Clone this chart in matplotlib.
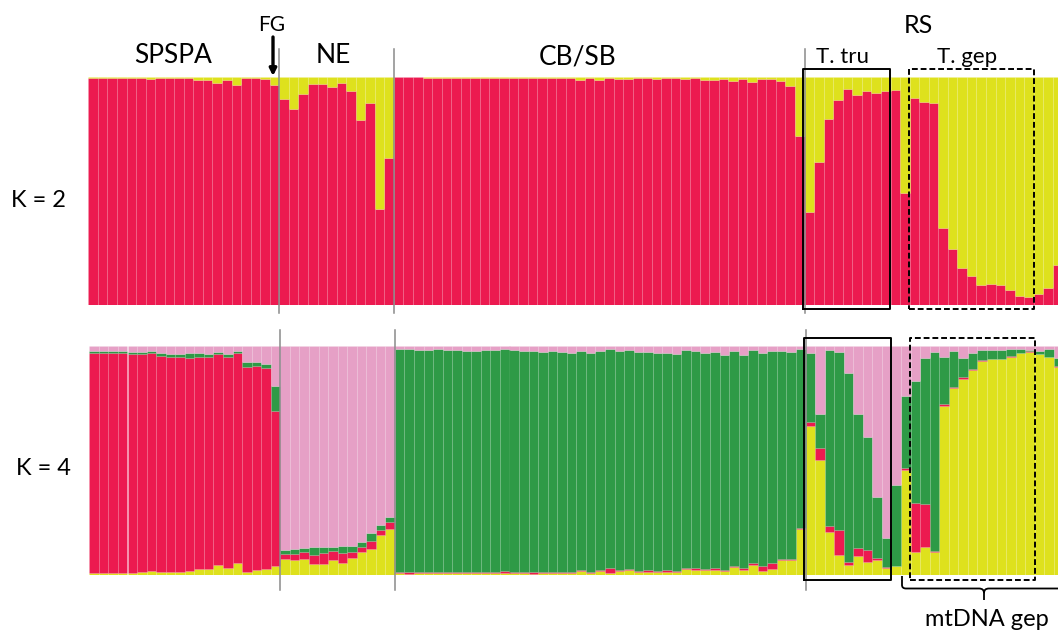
import matplotlib.pyplot as plt
import numpy as np
from matplotlib.path import Path
from matplotlib.patches import PathPatch

plt.rcParams['font.family'] = ['Lato', 'DejaVu Sans']

W, H = 1058, 630

groups = ['SPSPA', 'NE', 'CB/SB', 'RS']

# K = 2: membership of the red cluster per individual (the rest is yellow)
k2_red_spspa = [0.997, 0.997, 0.997, 0.997, 0.997, 0.996, 0.993, 0.996, 0.996, 0.996,
                0.994, 0.985, 0.985, 0.972, 0.988, 0.966, 0.994, 0.994, 0.990, 0.966]
k2_red_ne = [0.905, 0.859, 0.927, 0.971, 0.968, 0.955, 0.974, 0.940, 0.810, 0.884, 0.420, 0.644]
k2_red_cbsb = [0.998, 0.998, 0.998, 0.997, 0.997, 0.997, 0.997, 0.997, 0.996, 0.995,
               0.997, 0.996, 0.996, 0.996, 0.995, 0.996, 0.995, 0.996, 0.996, 0.988,
               0.996, 0.988, 0.996, 0.990, 0.990, 0.996, 0.996, 0.991, 0.996, 0.996,
               0.991, 0.996, 0.988, 0.985, 0.991, 0.982, 0.993, 0.977, 0.991, 0.990,
               0.981, 0.962, 0.742]
k2_red_rs = [0.410, 0.626, 0.816, 0.900, 0.946, 0.920, 0.940, 0.930, 0.940, 0.943,
             0.490, 0.910, 0.890, 0.885, 0.336, 0.247, 0.164, 0.129, 0.088, 0.092,
             0.089, 0.066, 0.041, 0.034, 0.048, 0.075, 0.175]

# K = 4: yellow, red, green membership (pink is the rest)
k4_yellow_spspa = [0.010, 0.010, 0.010, 0.010, 0.010, 0.012, 0.019, 0.012, 0.012, 0.013,
                   0.016, 0.028, 0.028, 0.042, 0.032, 0.054, 0.012, 0.020, 0.026, 0.039]
k4_red_spspa = [0.958, 0.958, 0.958, 0.958, 0.953, 0.952, 0.949, 0.946, 0.942, 0.940,
                0.932, 0.924, 0.926, 0.923, 0.921, 0.914, 0.898, 0.892, 0.878, 0.677]
k4_green_spspa = [0.012, 0.009, 0.012, 0.009, 0.010, 0.010, 0.010, 0.010, 0.013, 0.010,
                  0.023, 0.019, 0.009, 0.009, 0.010, 0.012, 0.019, 0.017, 0.019, 0.109]

k4_yellow_ne = [0.068, 0.067, 0.071, 0.048, 0.048, 0.066, 0.051, 0.074, 0.102, 0.115, 0.173, 0.199]
k4_red_ne = [0.023, 0.026, 0.028, 0.041, 0.047, 0.039, 0.044, 0.028, 0.022, 0.032, 0.022, 0.033]
k4_green_ne = [0.017, 0.019, 0.019, 0.032, 0.029, 0.017, 0.032, 0.026, 0.022, 0.036, 0.023, 0.023]

k4_yellow_cbsb = [0.007, 0.006, 0.007, 0.007, 0.007, 0.007, 0.007, 0.007, 0.007, 0.009,
                  0.009, 0.009, 0.007, 0.007, 0.006, 0.009, 0.009, 0.007, 0.007, 0.016,
                  0.009, 0.019, 0.010, 0.019, 0.022, 0.012, 0.013, 0.012, 0.015, 0.012,
                  0.025, 0.020, 0.022, 0.023, 0.017, 0.033, 0.023, 0.044, 0.017, 0.025,
                  0.066, 0.064, 0.203]
k4_red_cbsb = [0.006, 0.006, 0.004, 0.004, 0.006, 0.006, 0.004, 0.006, 0.004, 0.006,
               0.006, 0.007, 0.006, 0.006, 0.006, 0.006, 0.006, 0.006, 0.004, 0.004,
               0.004, 0.004, 0.019, 0.004, 0.004, 0.006, 0.009, 0.004, 0.006, 0.004,
               0.007, 0.010, 0.006, 0.007, 0.006, 0.006, 0.007, 0.007, 0.023, 0.026,
               0.006, 0.006, 0.004]
k4_green_cbsb = [0.974, 0.975, 0.973, 0.970, 0.974, 0.971, 0.972, 0.967, 0.969, 0.968,
                 0.968, 0.969, 0.970, 0.967, 0.968, 0.960, 0.963, 0.962, 0.960, 0.958,
                 0.958, 0.957, 0.958, 0.957, 0.955, 0.954, 0.950, 0.952, 0.950, 0.949,
                 0.951, 0.948, 0.940, 0.944, 0.939, 0.939, 0.932, 0.932, 0.928, 0.927,
                 0.908, 0.902, 0.780]

k4_yellow_rs = [0.650, 0.501, 0.187, 0.088, 0.045, 0.085, 0.055, 0.067, 0.029, 0.038,
                0.457, 0.099, 0.121, 0.102, 0.739, 0.816, 0.857, 0.895, 0.936, 0.943,
                0.942, 0.953, 0.968, 0.975, 0.965, 0.950, 0.907]
k4_red_rs = [0.019, 0.055, 0.026, 0.107, 0.010, 0.032, 0.054, 0.006, 0.004, 0.003,
             0.010, 0.215, 0.190, 0.004, 0.009, 0.006, 0.006, 0.004, 0.003, 0.002,
             0.002, 0.002, 0.002, 0.001, 0.002, 0.003, 0.007]
k4_green_rs = [0.299, 0.146, 0.769, 0.778, 0.828, 0.588, 0.493, 0.267, 0.128, 0.350,
               0.314, 0.531, 0.635, 0.867, 0.203, 0.155, 0.083, 0.072, 0.042, 0.039,
               0.039, 0.034, 0.015, 0.006, 0.013, 0.032, 0.032]

RED = '#EC1A50'
YELLOW = '#DEE11D'
GREEN = '#2E9A46'
PINK = '#E6A0C6'
EDGE = (1, 1, 1, 0.09)

k2_red = np.array(k2_red_spspa + k2_red_ne + k2_red_cbsb + k2_red_rs)
k4_yellow = np.array(k4_yellow_spspa + k4_yellow_ne + k4_yellow_cbsb + k4_yellow_rs)
k4_red = np.array(k4_red_spspa + k4_red_ne + k4_red_cbsb + k4_red_rs)
k4_green = np.array(k4_green_spspa + k4_green_ne + k4_green_cbsb + k4_green_rs)
k4_pink = 1 - k4_yellow - k4_red - k4_green

sizes = [len(k2_red_spspa), len(k2_red_ne), len(k2_red_cbsb), len(k2_red_rs)]
bounds = np.cumsum(sizes)
n = len(k2_red)
x = np.arange(n)

bar_px = 9.55

fig = plt.figure(figsize=(W / 100, H / 100), dpi=100)

x0_top, x0_bot = 88.3, 89.3
ax_top = fig.add_axes([x0_top / W, 1 - 305 / H, (W - x0_top) / W, 228 / H])
ax_bot = fig.add_axes([x0_bot / W, 1 - 575 / H, (W - x0_bot) / W, 229 / H])

# K = 2
ax_top.bar(x, k2_red, width=1, align='edge', color=RED, edgecolor=EDGE, linewidth=0.5)
ax_top.bar(x, 1 - k2_red, bottom=k2_red, width=1, align='edge', color=YELLOW,
           edgecolor=EDGE, linewidth=0.5)

# K = 4
bottom = np.zeros(n)
for vals, col in [(k4_yellow, YELLOW), (k4_red, RED), (k4_green, GREEN), (k4_pink, PINK)]:
    ax_bot.bar(x, vals, bottom=bottom, width=1, align='edge', color=col,
               edgecolor=EDGE, linewidth=0.5)
    bottom = bottom + vals

for ax, x0, (ylo, yhi) in [(ax_top, x0_top, (-0.035, 1.123)), (ax_bot, x0_bot, (-0.066, 1.07))]:
    ax.set_xlim(0, (W - x0) / bar_px)
    ax.set_ylim(0, 1)
    ax.axis('off')
    trans = ax.get_xaxis_transform()
    # group dividers
    for b in bounds[:-1]:
        ax.plot([b, b], [ylo, yhi], color='#8a8a8a', lw=1.1, transform=trans, clip_on=False)

# T. tru (solid) and T. gep (dashed) boxes
for ax, (blo, bhi) in [(ax_top, (-0.018, 1.035)), (ax_bot, (-0.022, 1.035))]:
    trans = ax.get_xaxis_transform()
    ax.plot([74.85, 83.95, 83.95, 74.85, 74.85], [blo, blo, bhi, bhi, blo],
            color='black', lw=1.4, transform=trans, clip_on=False)
    ax.plot([85.95, 99.05, 99.05, 85.95, 85.95], [blo, blo, bhi, bhi, blo],
            color='black', lw=1.4, ls=(0, (3, 1.5)), transform=trans, clip_on=False)

# overlay in pixel coordinates for labels and annotations
ov = fig.add_axes([0, 0, 1, 1], zorder=10)
ov.set_xlim(0, W)
ov.set_ylim(H, 0)
ov.axis('off')
ov.patch.set_alpha(0)

ov.text(173, 63, 'SPSPA', fontsize=19, ha='center', va='baseline')
ov.text(333, 63, 'NE', fontsize=19, ha='center', va='baseline')
ov.text(578, 64, 'CB/SB', fontsize=19, ha='center', va='baseline')
ov.text(918, 33, 'RS', fontsize=18, ha='center', va='baseline')
ov.text(843, 63, 'T. tru', fontsize=16, ha='center', va='baseline')
ov.text(967, 63, 'T. gep', fontsize=16, ha='center', va='baseline')
ov.text(272, 31, 'FG', fontsize=15, ha='center', va='baseline')
ov.text(38, 207, 'K = 2', fontsize=17, ha='center', va='baseline')
ov.text(43, 475, 'K = 4', fontsize=17, ha='center', va='baseline')
ov.text(987, 626, 'mtDNA gep', fontsize=17, ha='center', va='baseline')

ov.annotate('', xy=(273, 76), xytext=(273, 37),
            arrowprops=dict(arrowstyle='-|>', lw=2.4, color='black', mutation_scale=10,
                            shrinkA=0, shrinkB=0))

# curly brace under the T. gep group
verts = [(902, 576), (902, 585), (902, 588.5), (906, 588.5), (979, 588.5),
         (984, 588.5), (984, 593), (984, 600),
         (984, 593), (984, 588.5), (989, 588.5), (1062, 588.5), (1066, 588.5), (1066, 585)]
codes = [Path.MOVETO, Path.LINETO, Path.CURVE3, Path.CURVE3, Path.LINETO,
         Path.CURVE3, Path.CURVE3, Path.LINETO,
         Path.MOVETO, Path.CURVE3, Path.CURVE3, Path.LINETO, Path.CURVE3, Path.CURVE3]
ov.add_patch(PathPatch(Path(verts, codes), fill=False, lw=1.3, edgecolor='black'))

fig.savefig('out.png', dpi=100)
